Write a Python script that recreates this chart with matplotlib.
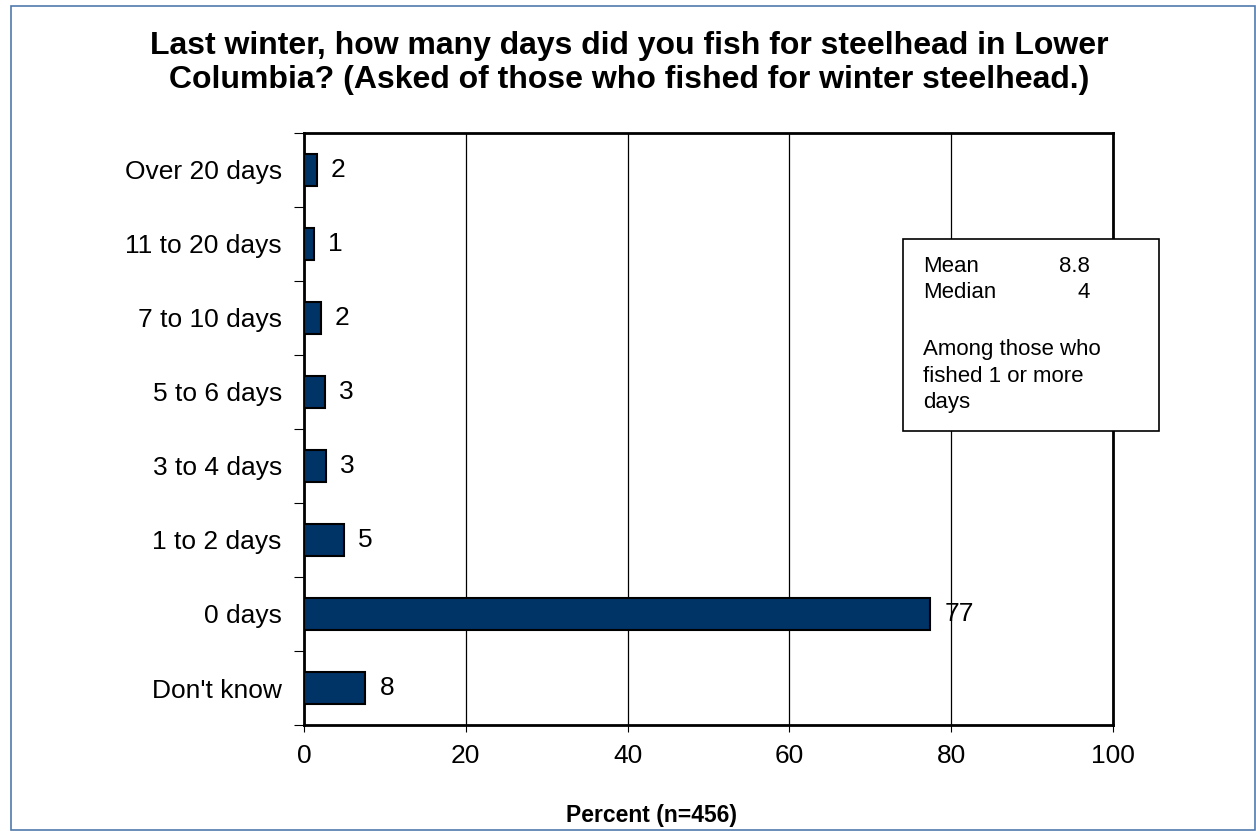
import matplotlib
matplotlib.use("Agg")
import matplotlib.pyplot as plt
import numpy as np
from matplotlib.patches import Rectangle

plt.rcParams["font.family"] = ["Liberation Sans", "DejaVu Sans"]

# Days fished for winter steelhead, top to bottom
categories = ["Over 20 days", "11 to 20 days", "7 to 10 days", "5 to 6 days",
              "3 to 4 days", "1 to 2 days", "0 days", "Don't know"]
percents = [1.6, 1.2, 2.1, 2.6, 2.7, 5.0, 77.4, 7.6]
x_ticks = [0, 20, 40, 60, 80, 100]

stat_names = ["Mean", "Median"]
stat_values = ["8.8", "4"]
stat_note = ["Among those who", "fished 1 or more", "days"]

title_lines = ["Last winter, how many days did you fish for steelhead in Lower",
               "Columbia? (Asked of those who fished for winter steelhead.)"]
xlabel = "Percent (n=456)"

W, H = 1256, 831
fig = plt.figure(figsize=(W / 100, H / 100), dpi=100)
ax = fig.add_axes([304 / W, 1 - 725 / H, (1113 - 304) / W, (725 - 133) / H])

y = np.arange(len(categories))
ax.barh(y, percents, height=0.42, color="#003366", edgecolor="black",
        linewidth=1.5, zorder=3)

for yi, v in zip(y, percents):
    ax.annotate(f"{v:.0f}", (v, yi), xytext=(14, 0), textcoords="offset pixels",
                ha="left", va="center", fontsize=19, zorder=4)

ax.set_xlim(0, 100)
ax.set_ylim(len(categories) - 0.5, -0.5)
ax.set_xticks(x_ticks)
ax.set_xticklabels([str(t) for t in x_ticks], fontsize=19)
ax.tick_params(axis="x", length=5, width=0.8, pad=9)

# category labels sit between the boundary ticks
ax.set_yticks(np.arange(len(categories) + 1) - 0.5)
ax.set_yticklabels([])
ax.set_yticks(y, minor=True)
ax.set_yticklabels(categories, minor=True, fontsize=19)
ax.tick_params(axis="y", which="major", length=7, width=0.8)
ax.tick_params(axis="y", which="minor", length=0, pad=16)

ax.grid(axis="x", color="black", linewidth=0.9, zorder=0)
for s in ax.spines.values():
    s.set_linewidth(2)
    s.set_color("black")

for i, line in enumerate(title_lines):
    fig.text(629 / W, 1 - (54 + 34 * i) / H, line, ha="center", va="baseline",
             fontsize=23, fontweight="bold")
fig.text(652 / W, 1 - 822 / H, xlabel, ha="center", va="baseline",
         fontsize=16.5, fontweight="bold")

# statistics box
fig.patches.append(Rectangle((903 / W, 1 - 431 / H), (1159 - 903) / W, (431 - 239) / H,
                             transform=fig.transFigure, facecolor="white",
                             edgecolor="black", linewidth=1.2, zorder=5))
for i, (name, val) in enumerate(zip(stat_names, stat_values)):
    yb = 1 - (272 + 26.5 * i) / H
    fig.text(923 / W, yb, name, ha="left", va="baseline", fontsize=16, zorder=6)
    fig.text(1090 / W, yb, val, ha="right", va="baseline", fontsize=16, zorder=6)
for i, line in enumerate(stat_note):
    fig.text(923 / W, 1 - (355 + 26.5 * i) / H, line, ha="left", va="baseline",
             fontsize=16, zorder=6)

# outer frame
fig.patches.append(Rectangle((11 / W, 1 / H), (W - 12) / W, (H - 7) / H,
                             transform=fig.transFigure, fill=False,
                             edgecolor="#4F7AAD", linewidth=1.2))

fig.savefig("out.png", dpi=100)
